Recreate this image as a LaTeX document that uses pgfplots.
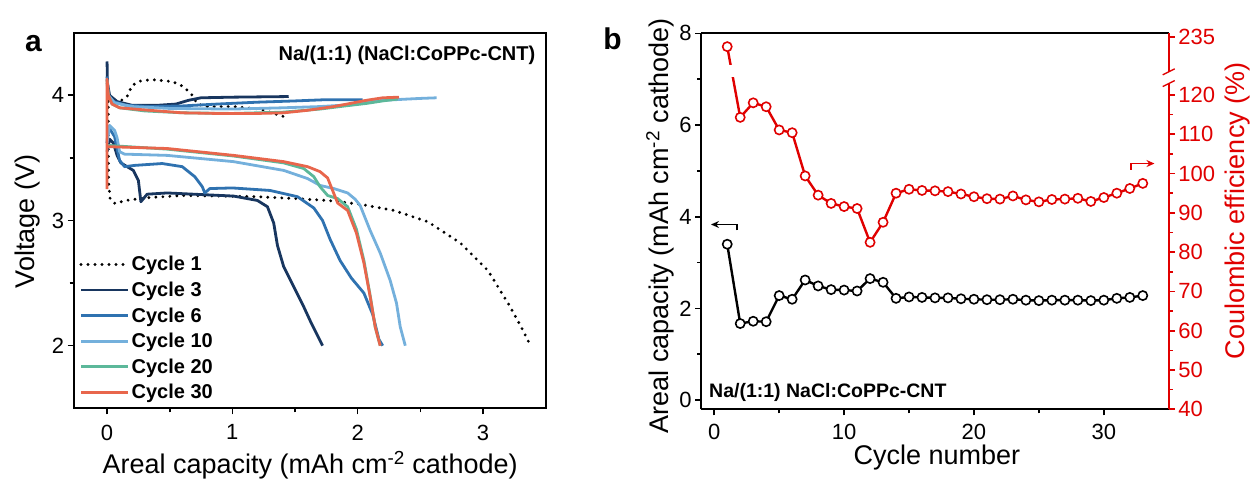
\documentclass[border=0pt]{standalone}
\usepackage{fontspec}
\setmainfont{Liberation Sans}
\usepackage{pgfplots}
\pgfplotsset{compat=1.18}
\usetikzlibrary{arrows.meta}
\definecolor{cthree}{HTML}{18365F}
\definecolor{csix}{HTML}{2F72B0}
\definecolor{cten}{HTML}{74B0DC}
\definecolor{ctwenty}{HTML}{5CB89A}
\definecolor{cthirty}{HTML}{E8664C}
\definecolor{cered}{HTML}{E00000}

\pgfplotstableread{
cyc cap
1 3.40
2 1.67
3 1.72
4 1.71
5 2.28
6 2.20
7 2.62
8 2.49
9 2.41
10 2.40
11 2.38
12 2.65
13 2.57
14 2.22
15 2.25
16 2.24
17 2.23
18 2.23
19 2.21
20 2.20
21 2.19
22 2.19
23 2.20
24 2.18
25 2.17
26 2.18
27 2.18
28 2.18
29 2.17
30 2.18
31 2.22
32 2.24
33 2.28
}\captable

% CE; the first value is drawn above the axis break (plotted position 132.3 on the broken scale)
\pgfplotstableread{
cyc ce
1 132.3
2 114.3
3 118.0
4 117.0
5 111.1
6 110.4
7 99.4
8 94.5
9 92.4
10 91.6
11 91.1
12 82.5
13 87.6
14 95.0
15 96.0
16 95.7
17 95.6
18 95.4
19 94.8
20 94.1
21 93.6
22 93.5
23 94.3
24 93.3
25 92.8
26 93.4
27 93.5
28 93.7
29 92.9
30 93.9
31 95.0
32 96.2
33 97.5
}\cetable

\begin{document}
\begin{tikzpicture}[x=1pt,y=1pt]
\useasboundingbox (0,0) rectangle (1252,481);

% ---------------- panel a ----------------
\begin{axis}[
  at={(73.6pt,72.7pt)}, anchor=south west,
  width=472pt, height=375.6pt, scale only axis,
  xmin=-0.267, xmax=3.5, ymin=1.5, ymax=4.5,
  xtick={0,1,2,3}, ytick={2,3,4},
  minor xtick={0.5,1.5,2.5}, minor ytick={2.5,3.5},
  tick align=outside, xtick pos=bottom, ytick pos=left,
  major tick length=6pt, minor tick length=4pt,
  every tick/.style={black, line width=1.6pt},
  axis line style={line width=1.8pt},
  tick label style={font=\fontsize{22}{26}\selectfont},
  xticklabel style={yshift=-7pt},
  /pgf/number format/assume math mode=true,
  xlabel={Areal capacity (mAh cm\textsuperscript{-2} cathode)},
  ylabel={Voltage (V)},
  label style={font=\fontsize{27}{32}\selectfont},
  xlabel style={at={(axis description cs:0.501,-0.151)}, anchor=center},
  ylabel style={at={(axis description cs:-0.097,0.497)}, anchor=center},
  legend style={at={(rel axis cs:0.012,0.41)}, anchor=north west, draw=none, fill=none,
    font=\fontsize{20}{23}\selectfont\bfseries, row sep=5.6pt, inner sep=0pt},
  legend cell align=left,
  legend image code/.code={\draw[#1] (0pt,0pt) -- (47pt,0pt);},
  every axis plot/.append style={line width=2.8pt, line join=round},
]
\addplot[black, line width=3.2pt, line cap=round, dash pattern=on 0pt off 7pt] coordinates {
(0.01,3.96) (0.01,3.6) (0.012,3.3) (0.025,3.17) (0.064,3.135) (0.15,3.16) (0.3,3.18) (0.6,3.20) (0.9,3.195) (1.2,3.19) (1.5,3.175) (1.76,3.16) (2.02,3.13) (2.29,3.08) (2.56,2.99) (2.82,2.82) (3.04,2.60) (3.20,2.34) (3.30,2.16) (3.38,2.0)};
\addlegendentry{Cycle 1}
\addplot[forget plot, black, line width=3.2pt, line cap=round, dash pattern=on 0pt off 7pt] coordinates {
(0.01,3.95) (0.1,3.95) (0.16,3.99) (0.20,4.08) (0.27,4.115) (0.36,4.125) (0.52,4.11) (0.61,4.07) (0.68,4.0) (0.72,3.93) (0.80,3.91) (1.01,3.91) (1.22,3.89) (1.41,3.83)};

\addplot[cthree] coordinates {
(0,3.55) (0.02,3.65) (0.05,3.62) (0.08,3.52) (0.11,3.46) (0.16,3.43) (0.21,3.40) (0.25,3.32) (0.27,3.15) (0.32,3.21) (0.48,3.22) (1.01,3.195) (1.20,3.16) (1.28,3.11) (1.33,2.98) (1.36,2.80) (1.41,2.63) (1.49,2.47) (1.57,2.31) (1.63,2.18) (1.72,2.0)};
\addlegendentry{Cycle 3}
\addplot[forget plot, cthree] coordinates {
(0,4.27) (0.003,4.1) (0.02,4.0) (0.08,3.95) (0.2,3.92) (0.4,3.92) (0.55,3.93) (0.65,3.96) (0.75,3.98) (1.0,3.985) (1.45,3.99)};

\addplot[csix] coordinates {
(0,3.62) (0.01,3.75) (0.06,3.67) (0.10,3.48) (0.14,3.43) (0.22,3.44) (0.44,3.455) (0.60,3.43) (0.70,3.35) (0.76,3.27) (0.78,3.22) (0.82,3.255) (1.0,3.26) (1.3,3.24) (1.52,3.19) (1.65,3.10) (1.72,3.00) (1.78,2.85) (1.86,2.68) (1.95,2.54) (2.05,2.42) (2.12,2.25) (2.17,2.05) (2.20,2.0)};
\addlegendentry{Cycle 6}
\addplot[forget plot, csix] coordinates {
(0,4.15) (0.01,4.0) (0.05,3.95) (0.15,3.92) (0.34,3.91) (0.6,3.915) (0.88,3.93) (1.2,3.945) (1.5,3.955) (1.75,3.965) (2.04,3.965)};

\addplot[cten] coordinates {
(0,3.62) (0.02,3.76) (0.06,3.72) (0.08,3.66) (0.10,3.55) (0.14,3.53) (0.48,3.52) (1.01,3.47) (1.41,3.40) (1.60,3.335) (1.70,3.28) (1.81,3.255) (1.92,3.22) (1.98,3.17) (2.02,3.12) (2.10,2.92) (2.18,2.74) (2.26,2.52) (2.31,2.34) (2.34,2.15) (2.38,2.0)};
\addlegendentry{Cycle 10}
\addplot[forget plot, cten] coordinates {
(0,4.1) (0.01,4.0) (0.06,3.94) (0.2,3.91) (0.5,3.895) (1.0,3.89) (1.4,3.90) (1.7,3.91) (1.95,3.925) (2.2,3.96) (2.5,3.975) (2.63,3.98)};

\addplot[ctwenty] coordinates {
(0,3.6) (0.48,3.57) (1.01,3.515) (1.41,3.46) (1.57,3.415) (1.65,3.35) (1.70,3.27) (1.76,3.20) (1.84,3.175) (1.92,3.11) (1.99,2.93) (2.05,2.68) (2.10,2.40) (2.14,2.15) (2.18,2.0)};
\addlegendentry{Cycle 20}
\addplot[forget plot, ctwenty] coordinates {
(0,4.12) (0.01,4.0) (0.04,3.93) (0.1,3.90) (0.3,3.875) (0.6,3.86) (1.0,3.855) (1.4,3.865) (1.7,3.89) (1.9,3.915) (2.07,3.935) (2.2,3.955) (2.32,3.97)};

\addplot[cthirty] coordinates {
(0,3.59) (0.48,3.575) (1.01,3.52) (1.41,3.47) (1.60,3.43) (1.70,3.39) (1.76,3.34) (1.80,3.24) (1.84,3.14) (1.92,3.08) (1.99,2.90) (2.05,2.66) (2.10,2.39) (2.14,2.15) (2.18,2.0)};
\addlegendentry{Cycle 30}
\addplot[forget plot, cthirty] coordinates {
(0,3.25) (0,4.13) (0.01,4.0) (0.04,3.93) (0.1,3.90) (0.34,3.88) (0.6,3.86) (0.88,3.855) (1.2,3.855) (1.41,3.86) (1.6,3.88) (1.81,3.91) (2.07,3.96) (2.2,3.98) (2.33,3.985)};
\end{axis}

% ---------------- panel b, left axis ----------------
\begin{axis}[
  at={(701.25pt,71.7pt)}, anchor=south west,
  width=467.5pt, height=376pt, scale only axis,
  xmin=-1, xmax=35, ymin=-0.2, ymax=8,
  axis x line*=box, axis y line*=left,
  xtick={0,10,20,30}, minor xtick={5,15,25},
  ytick={0,2,4,6,8}, minor ytick={1,3,5,7},
  tick align=outside, xtick pos=bottom,
  major tick length=6pt, minor tick length=4pt,
  every tick/.style={black, line width=1.6pt},
  axis line style={line width=1.8pt},
  tick label style={font=\fontsize{22}{26}\selectfont},
  xticklabel style={yshift=-5pt},
  /pgf/number format/assume math mode=true,
  xlabel={Cycle number},
  ylabel={Areal capacity (mAh cm\textsuperscript{-2} cathode)},
  label style={font=\fontsize{27}{32}\selectfont},
  xlabel style={at={(axis description cs:0.504,-0.1295)}, anchor=center},
  ylabel style={at={(axis description cs:-0.088,0.488)}, anchor=center},
]
\addplot[black, line width=2.4pt, mark=*, mark size=4.6pt,
  mark options={fill=white, draw=black, line width=1.6pt}] table[x=cyc, y=cap] {\captable};
\draw[black, line width=1.6pt, -{Stealth[length=8pt,width=7pt]}]
  (axis cs:1.76,3.70) -- (axis cs:1.76,3.83) -- (axis cs:-0.25,3.83);
\draw[cered, line width=1.6pt, -{Stealth[length=8pt,width=7pt]}]
  (axis cs:32.1,5.02) -- (axis cs:32.1,5.16) -- (axis cs:33.9,5.16);
\end{axis}

% ---------------- panel b, right axis ----------------
\begin{axis}[
  at={(701.25pt,71.7pt)}, anchor=south west,
  width=467.5pt, height=376pt, scale only axis,
  xmin=-1, xmax=35, ymin=40, ymax=135.7,
  axis x line=none, axis y line*=right,
  ytick={40,50,60,70,80,90,100,110,120,134.8},
  yticklabels={40,50,60,70,80,90,100,110,120,235},
  minor ytick={45,55,65,75,85,95,105,115},
  tick align=outside,
  major tick length=6pt, minor tick length=4pt,
  every tick/.style={cered, line width=1.6pt},
  axis line style={cered, line width=1.8pt},
  yticklabel style={font=\fontsize{22}{26}\selectfont, text=cered},
  ylabel={Coulombic efficiency (\%)},
  ylabel style={font=\fontsize{27}{32}\selectfont, text=cered, at={(axis description cs:1.147,0.528)}, anchor=center},
  after end axis/.code={
    \fill[white] (axis cs:1.12,124.6) rectangle (axis cs:1.6,127.6);
    \fill[white] ([xshift=-7pt]axis cs:35,122.9) rectangle ([xshift=7pt]axis cs:35,125.9);
    \draw[cered, line width=1.4pt] ([xshift=-6pt,yshift=-3pt]axis cs:35,122.9) -- ([xshift=6pt,yshift=3pt]axis cs:35,122.9);
    \draw[cered, line width=1.4pt] ([xshift=-6pt,yshift=-3pt]axis cs:35,125.9) -- ([xshift=6pt,yshift=3pt]axis cs:35,125.9);
  },
]
\addplot[cered, line width=2.4pt, mark=*, mark size=4.6pt,
  mark options={fill=white, draw=cered, line width=1.6pt}] table[x=cyc, y=ce] {\cetable};
\end{axis}

% ---------------- texts ----------------
\node[inner sep=0pt, anchor=east, font=\fontsize{20}{24}\selectfont\bfseries] at (535.5,426) {Na/(1:1) (NaCl:CoPPc-CNT)};
\node[inner sep=0pt, anchor=west, font=\fontsize{19.5}{24}\selectfont\bfseries] at (709,88.3) {Na/(1:1) NaCl:CoPPc-CNT};
\node[inner sep=0pt, font=\fontsize{30}{34}\selectfont\bfseries] at (33.5,437.7) {a};
\node[inner sep=0pt, font=\fontsize{30}{34}\selectfont\bfseries] at (612.5,442) {b};
\end{tikzpicture}
\end{document}
